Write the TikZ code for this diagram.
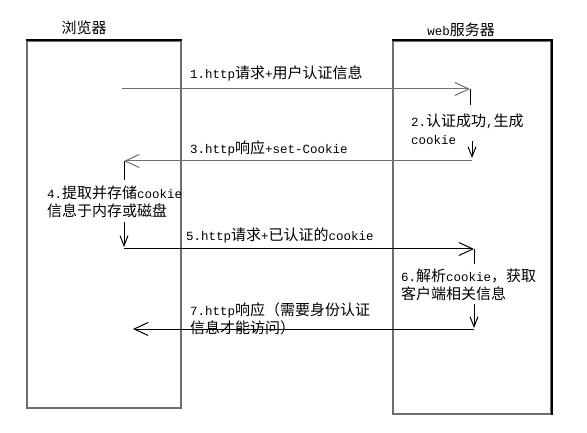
\documentclass[tikz,border=0pt]{standalone}
\usepackage{fontspec}
\setmainfont{Liberation Mono}
\newfontfamily\cjk[Scale=1.2]{Noto Sans CJK SC}
\usetikzlibrary{arrows.meta,calc}
\definecolor{linegray}{RGB}{110,110,110}

\begin{document}
\begin{tikzpicture}[x=1pt,y=-1pt]
    \useasboundingbox (0,0) rectangle (587,433);

        % Setup the styles for the lanes and the messages
        \tikzset{lane/.style={draw=linegray,
                              line width=1.3pt,
                              inner sep=0pt},
                 lane top/.style={draw=black, line width=2pt},
                 msg/.style={line width=1pt,
                             -{Straight Barb[length=14pt,width=13pt]}},
                 hop/.style={line width=1pt,
                             -{Straight Barb[length=10pt,width=8pt]}},
                 note/.style={inner sep=0pt,
                              align=left,
                              font=\fontsize{12.5}{18}\selectfont}}

        % Draw the lanes
        \node[lane, minimum width=154pt, minimum height=367pt] at (104,224.5) (browser) {};
        \node[lane, minimum width=158pt, minimum height=373pt] at (472,227.5) (server)  {};
        \draw[lane top] (browser.north west) -- (browser.north east);
        \draw[lane top] (server.north west) -- (server.north east) -- (server.south east);

        \node[note] at (84,28)  (browsertitle) {{\cjk 浏览器}};
        \node[note] at (461,30) (servertitle)  {web{\cjk 服务器}};

        % End points of the messages
        \coordinate (b1) at (122,89);  \coordinate (w1) at (470,89);
        \coordinate (w3) at (472,161); \coordinate (b3) at (124,161);
        \coordinate (b5) at (124,249); \coordinate (w5) at (474,249);
        \coordinate (w7) at (474,329); \coordinate (b7) at (133,329);

        % Labels
        \node[note, anchor=west] at (190,73) (m1) {1.http{\cjk 请求}+{\cjk 用户认证信息}};
        \node[note, anchor=north west] at (411,114) (s2) {2.{\cjk 认证成功},{\cjk 生成}\\cookie};
        \node[note, anchor=west] at (190,148) (m3) {3.http{\cjk 响应}+set-Cookie};
        \node[note, anchor=north west] at (47,186) (s4) {4.{\cjk 提取并存储}cookie\\{\cjk 信息于内存或磁盘}};
        \node[note, anchor=west] at (186,235) (m5) {5.http{\cjk 请求}+{\cjk 已认证的}cookie};
        \node[note, anchor=north west] at (401,269) (s6) {6.{\cjk 解析}cookie{\cjk ，获取}\\{\cjk 客户端相关信息}};
        \node[note, anchor=north west] at (190,302) (m7) {7.http{\cjk 响应（需要身份认证}\\{\cjk 信息才能访问）}};

        % Connect the lanes with arrows
        \draw[msg, draw=linegray] (b1) -- (w1);
        \draw[line width=1pt] (w1) -- ++(0,16);
        \draw[hop] ($(w3)+(0,-20)$) -- ($(w3)+(0,-3)$);
        \draw[msg, draw=linegray] (w3) -- (b3);
        \draw[line width=1pt] (b3) -- ++(0,19);
        \draw[hop] ($(b5)+(0,-27)$) -- ($(b5)+(0,-2)$);
        \draw[msg] (b5) -- (w5);
        \draw[line width=1pt] (w5) -- ++(0,15);
        \draw[hop] ($(w7)+(0,-25)$) -- ($(w7)+(0,-1)$);
        \draw[msg] (w7) -- (b7);

    \end{tikzpicture}
\end{document}
